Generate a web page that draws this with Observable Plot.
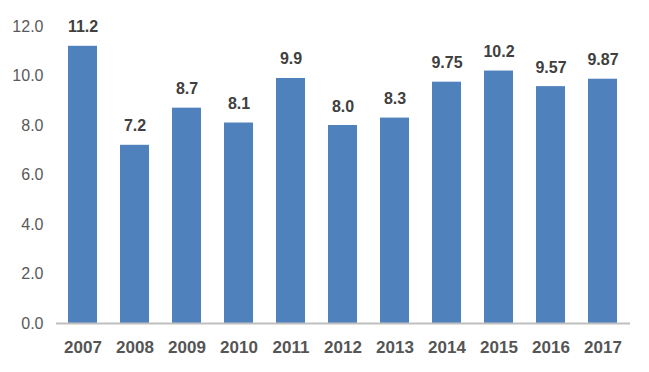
<!DOCTYPE html>
<html>
<head>
<meta charset="utf-8">
<script src="https://cdn.jsdelivr.net/npm/d3@7"></script>
<script src="https://cdn.jsdelivr.net/npm/@observablehq/plot@0.6"></script>
<style>
  html, body { margin: 0; padding: 0; background: #fff; }
  #chart { width: 649px; height: 372px; }
</style>
</head>
<body>
<div id="chart"></div>
<script>
const years = ["2007","2008","2009","2010","2011","2012","2013","2014","2015","2016","2017"];
const values = [11.2, 7.2, 8.7, 8.1, 9.9, 8.0, 8.3, 9.75, 10.2, 9.57, 9.87];
const valueLabels = ["11.2","7.2","8.7","8.1","9.9","8.0","8.3","9.75","10.2","9.57","9.87"];
const yTicks = [0, 2, 4, 6, 8, 10, 12];

const data = years.map((y, i) => ({year: y, value: values[i], label: valueLabels[i]}));

const chart = Plot.plot({
  width: 649,
  height: 372,
  marginLeft: 56,
  marginRight: 19,
  marginTop: 26,
  marginBottom: 49,
  style: {fontFamily: "'Liberation Sans', Arial, sans-serif", background: "#fff"},
  x: {domain: years, paddingInner: 0.44, paddingOuter: 0.22, label: null},
  y: {domain: [0, 12], label: null},
  marks: [
    Plot.barY(data, {x: "year", y: "value", fill: "#4F81BD"}),
    Plot.ruleY([0], {stroke: "#BFBFBF", strokeWidth: 2}),
    Plot.text(data, {x: "year", y: "value", text: "label", dy: -14, lineAnchor: "bottom",
      fontSize: 16, fontWeight: "bold", fill: "#404040"}),
    Plot.axisX({tickSize: 0, tickPadding: 17, fontSize: 17, fontWeight: "bold", color: "#555555"}),
    Plot.axisY({ticks: yTicks, tickFormat: d => d.toFixed(1), tickSize: 0, tickPadding: 13,
      fontSize: 16, color: "#595959"})
  ]
});
document.getElementById("chart").appendChild(chart);
</script>
</body>
</html>
